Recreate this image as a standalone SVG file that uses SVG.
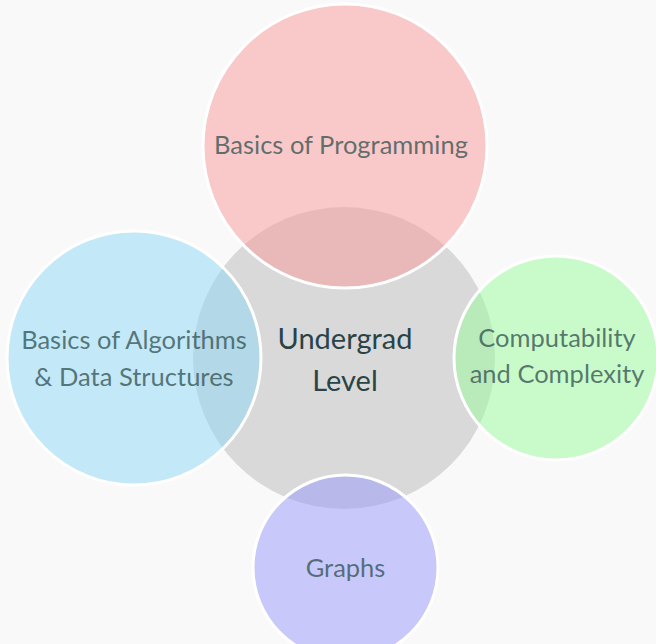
<svg xmlns="http://www.w3.org/2000/svg" width="656" height="644" viewBox="0 0 656 644">
  <style>
    .bg { fill: #f9f9f9; }
    .core { fill: #d9d9d9; }
    .bubble { stroke: #ffffff; stroke-width: 3; fill-opacity: 0.5; }
    .label { font-family: Lato, "Open Sans", sans-serif; text-anchor: middle; }
    .core-label { font-size: 29px; fill: #2a4347; }
    .sat-label { font-size: 25.5px; fill: #2f4f4f; fill-opacity: 0.75; }
  </style>
  <rect class="bg" x="0" y="0" width="656" height="644"/>

  <!-- central topic -->
  <g id="undergrad">
    <circle class="core" cx="344" cy="358" r="151"/>
    <text class="label core-label" x="345" y="349">Undergrad</text>
    <text class="label core-label" x="345" y="391">Level</text>
  </g>

  <!-- no connectors: bubbles overlap the centre directly -->
  <g id="connectors"/>

  <g id="programming">
    <circle class="bubble" cx="345" cy="146" r="142" fill="#f99797"/>
    <text class="label sat-label" x="341" y="154">Basics of Programming</text>
  </g>

  <g id="algorithms">
    <circle class="bubble" cx="134" cy="358" r="127" fill="#8dd7f5"/>
    <text class="label sat-label" x="134" y="349">Basics of Algorithms</text>
    <text class="label sat-label" x="134" y="386">&amp; Data Structures</text>
  </g>

  <g id="computability">
    <circle class="bubble" cx="556" cy="358" r="102" fill="#99fb99"/>
    <text class="label sat-label" x="557" y="347">Computability</text>
    <text class="label sat-label" x="557" y="383">and Complexity</text>
  </g>

  <g id="graphs">
    <circle class="bubble" cx="345.5" cy="567.5" r="92.5" fill="#9797fb"/>
    <text class="label sat-label" x="345.5" y="577">Graphs</text>
  </g>
</svg>
